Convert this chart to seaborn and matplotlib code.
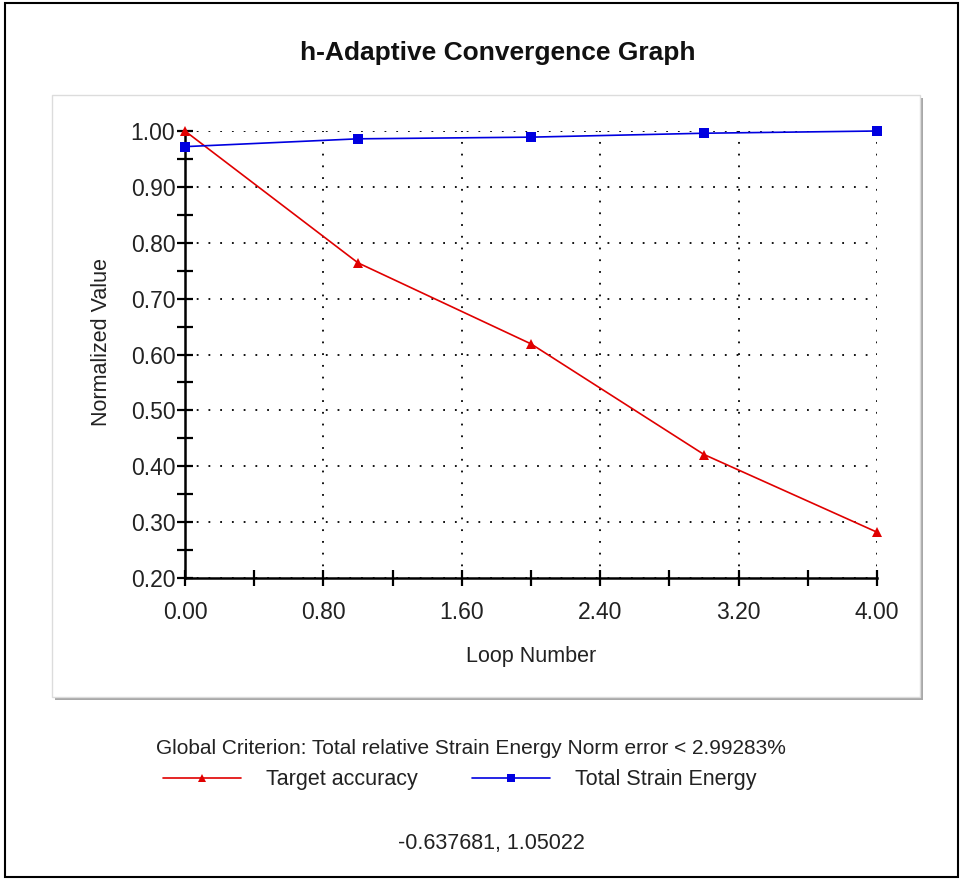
import numpy as np
import pandas as pd
import matplotlib
matplotlib.use("Agg")
import matplotlib.pyplot as plt
from matplotlib.patches import Rectangle
from matplotlib.lines import Line2D
import seaborn as sns

# ---- data ----
loops = [0, 1, 2, 3, 4]
target_accuracy = [1.00, 0.764, 0.619, 0.421, 0.282]
total_strain_energy = [0.972, 0.986, 0.989, 0.996, 1.000]
series_names = ["Target accuracy", "Total Strain Energy"]
x_ticks = [0.0, 0.8, 1.6, 2.4, 3.2, 4.0]
y_ticks = [0.2, 0.3, 0.4, 0.5, 0.6, 0.7, 0.8, 0.9, 1.0]
title = "h-Adaptive Convergence Graph"
xlabel = "Loop Number"
ylabel = "Normalized Value"
criterion = "Global Criterion: Total relative Strain Energy Norm error < 2.99283%"
coords = "-0.637681, 1.05022"

df = pd.DataFrame({
    "Loop": loops * 2,
    "Value": target_accuracy + total_strain_energy,
    "Series": [series_names[0]] * len(loops) + [series_names[1]] * len(loops),
})

sns.set_style("white")
plt.rcParams["font.family"] = ["Liberation Sans", "DejaVu Sans"]

W, H = 962, 881
fig = plt.figure(figsize=(W / 100, H / 100), dpi=100)

# outer frame
fig.patches.append(Rectangle((5 / W, 1 - 877 / H), 953 / W, 874 / H, transform=fig.transFigure,
                             fill=False, edgecolor="black", linewidth=1.5, zorder=-5))
# inner panel with shadow
px0, py0, px1, py1 = 52, 95, 920, 697
fig.patches.append(Rectangle(((px0 + 3) / W, 1 - (py1 + 3) / H), (px1 - px0) / W, (py1 - py0) / H,
                             transform=fig.transFigure, facecolor="#a8a8a8", edgecolor="none", zorder=-4))
fig.patches.append(Rectangle((px0 / W, 1 - py1 / H), (px1 - px0) / W, (py1 - py0) / H,
                             transform=fig.transFigure, facecolor="white", edgecolor="#dcdcdc",
                             linewidth=1.0, zorder=-3))

ax = fig.add_axes([185 / W, 1 - 578 / H, (877 - 185) / W, (578 - 131) / H])
ax.set_zorder(5)
ax.patch.set_alpha(0)

palette = {series_names[0]: "#e00000", series_names[1]: "#0000e0"}
markers = {series_names[0]: "^", series_names[1]: "s"}
sns.lineplot(data=df, x="Loop", y="Value", hue="Series", style="Series", palette=palette,
             markers=markers, dashes=False, markersize=7, linewidth=1.2,
             markeredgewidth=0, ax=ax, legend=False, clip_on=False, zorder=5)

ax.set_xlim(0, 4)
ax.set_ylim(0.2, 1.0)
ax.set_xticks(x_ticks)
ax.set_xticklabels([f"{v:.2f}" for v in x_ticks])
ax.set_yticks(y_ticks)
ax.set_yticklabels([f"{v:.2f}" for v in y_ticks])
ax.set_xticks(np.arange(0.4, 4.0, 0.8), minor=True)
ax.set_yticks(np.arange(0.25, 1.0, 0.1), minor=True)
ax.tick_params(axis="both", which="major", direction="inout", length=11, width=1.6,
               colors="black", labelsize=16.5, labelcolor="#222222", left=True, bottom=True)
ax.tick_params(axis="x", which="major", pad=11)
ax.tick_params(axis="y", which="major", pad=1.5)
ax.tick_params(axis="both", which="minor", direction="inout", length=11, width=1.6,
               colors="black", left=True, bottom=True)
ax.grid(True, which="major", color="black", linestyle=(0, (1, 5.5)), linewidth=1.3)
for s in ["top", "right"]:
    ax.spines[s].set_visible(False)
for s in ["left", "bottom"]:
    ax.spines[s].set_color("black")
    ax.spines[s].set_linewidth(1.8)
ax.set_xlabel(xlabel, fontsize=15.5, color="#222222", labelpad=16)
ax.set_ylabel(ylabel, fontsize=15.5, color="#222222")
ax.yaxis.set_label_coords(-0.1055, 0.528)

fig.text(498 / W, 1 - 53 / H, title, ha="center", va="center", fontsize=19,
         fontweight="bold", color="#111111")
fig.text(471 / W, 1 - 748 / H, criterion, ha="center", va="center", fontsize=15, color="#222222")
fig.text(491 / W, 1 - 843 / H, coords, ha="center", va="center", fontsize=15.5, color="#222222")

handles = [Line2D([], [], color=palette[n], marker=markers[n], markersize=6, linewidth=1.2,
                  markeredgewidth=0) for n in series_names]
fig.legend(handles, series_names, loc="center", bbox_to_anchor=(460 / W, 1 - 780 / H),
           ncol=2, frameon=False, fontsize=15.5, handlelength=3.6, columnspacing=2.5,
           handletextpad=1.2, labelcolor="#222222")

fig.savefig("out.png", dpi=100)
